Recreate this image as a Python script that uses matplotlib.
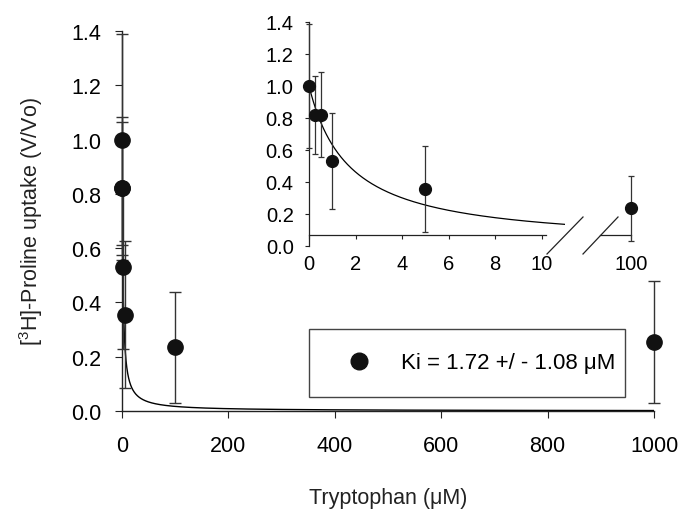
import matplotlib
matplotlib.use('Agg')
import matplotlib.pyplot as plt
from matplotlib.lines import Line2D
import numpy as np

plt.rcParams['font.family'] = ['Liberation Sans', 'DejaVu Sans']
plt.rcParams['mathtext.fontset'] = 'custom'
plt.rcParams['mathtext.rm'] = 'Liberation Sans'

# data
conc = [0, 0.25, 0.5, 1, 5, 100, 1000]          # tryptophan, uM
uptake = [1.0, 0.82, 0.82, 0.53, 0.355, 0.235, 0.255]
err = [0.39, 0.245, 0.265, 0.30, 0.27, 0.205, 0.225]
ki = 1.72
ki_err = 1.08
y_ticks = [0.0, 0.2, 0.4, 0.6, 0.8, 1.0, 1.2, 1.4]

# competitive inhibition fit, V/Vo = Ki / (Ki + [I])
x_main = np.linspace(0, 1000, 4000)
x_zoom = np.linspace(0, 11.0, 400)
fit_main = ki / (ki + x_main)
fit_zoom = ki / (ki + x_zoom)

W, H = 680, 510
fig = plt.figure(figsize=(6.8, 5.1), dpi=100)

# main panel
ax = fig.add_axes([122 / W, 98 / H, 532 / W, 380 / H])
ax.plot(x_main, fit_main, color='k', lw=1.0)
ax.errorbar(conc, uptake, yerr=err, fmt='o', color='#111111', ms=11,
            ecolor='#333333', elinewidth=1.0, capsize=4, capthick=1.0,
            clip_on=False, zorder=3)
ax.set_xlim(0, 1000)
ax.set_ylim(0, 1.4)
ax.set_xticks([0, 200, 400, 600, 800, 1000])
ax.set_yticks(y_ticks)
ax.set_yticklabels(['%.1f' % v for v in y_ticks])
for s in ['top', 'right']:
    ax.spines[s].set_visible(False)
for s in ['left', 'bottom']:
    ax.spines[s].set_linewidth(1.0)
    ax.spines[s].set_color('#222222')
ax.tick_params(axis='x', direction='out', length=5, labelsize=15.5, pad=12, color='#222222')
ax.tick_params(axis='y', direction='out', length=5, labelsize=15.5, pad=10, color='#222222')
ax.set_xlabel('Tryptophan (\u03bcM)', fontsize=15.5, color='#222222')
ax.set_ylabel('[$^{3}$H]-Proline uptake (V/Vo)', fontsize=15.5, color='#222222')
ax.xaxis.set_label_coords(0.5, -0.2)
ax.yaxis.set_label_coords(-0.145, 0.5)

handle = Line2D([], [], marker='o', ls='none', color='#111111', ms=12)
leg = ax.legend([handle], ['Ki = %.2f +/ - %.2f \u03bcM' % (ki, ki_err)],
                loc='center', bbox_to_anchor=(309 / W, (H - 396) / H, 316 / W, 64 / H),
                bbox_transform=fig.transFigure, mode='expand', borderaxespad=0,
                borderpad=1.05, handlelength=2.4, handletextpad=0.7,
                fontsize=16, fancybox=False, framealpha=1)
leg.get_frame().set_edgecolor('#444444')
leg.get_frame().set_linewidth(1.0)

# inset, left part (0-10 uM)
ax1 = fig.add_axes([309 / W, (H - 247) / H, 256 / W, 224 / H])
ax1.plot(x_zoom, fit_zoom, color='k', lw=0.9)
ax1.errorbar(conc[:5], uptake[:5], yerr=err[:5], fmt='o', color='#111111', ms=8.5,
             ecolor='#333333', elinewidth=0.9, capsize=2.5, capthick=0.9,
             clip_on=False, zorder=3)
ax1.set_xlim(0, 11.0)
ax1.set_ylim(0, 1.4)
ax1.set_xticks([0, 2, 4, 6, 8, 10])
ax1.set_yticks(y_ticks)
ax1.set_yticklabels(['%.1f' % v for v in y_ticks])
ax1.spines['top'].set_visible(False)
ax1.spines['right'].set_visible(False)
ax1.spines['bottom'].set_position(('data', 0.07))
ax1.spines['bottom'].set_bounds(0, 10.2)
ax1.spines['left'].set_bounds(0, 1.4)
for s in ['left', 'bottom']:
    ax1.spines[s].set_linewidth(0.9)
    ax1.spines[s].set_color('#222222')
ax1.tick_params(axis='x', direction='out', length=3, labelsize=14.5, pad=11, color='#222222')
ax1.tick_params(axis='y', direction='out', length=3, labelsize=14.5, pad=8, color='#222222')
ax1.patch.set_alpha(0)

# inset, right part (100 uM)
ax2 = fig.add_axes([600 / W, (H - 247) / H, 36 / W, 224 / H])
ax2.errorbar(conc[5:6], uptake[5:6], yerr=err[5:6], fmt='o', color='#111111', ms=8.5,
             ecolor='#333333', elinewidth=0.9, capsize=2.5, capthick=0.9,
             clip_on=False, zorder=3)
ax2.set_xlim(90.5, 101.5)
ax2.set_ylim(0, 1.4)
ax2.set_xticks([100])
ax2.set_yticks([])
for s in ['top', 'right', 'left']:
    ax2.spines[s].set_visible(False)
ax2.spines['bottom'].set_position(('data', 0.07))
ax2.spines['bottom'].set_bounds(90.5, 100)
ax2.spines['bottom'].set_linewidth(0.9)
ax2.spines['bottom'].set_color('#222222')
ax2.tick_params(axis='x', direction='out', length=3, labelsize=14.5, pad=11, color='#222222')
ax2.patch.set_alpha(0)

# axis break marks
for x0, x1 in [(547, 583), (583, 618)]:
    fig.add_artist(Line2D([x0 / W, x1 / W], [(H - 255) / H, (H - 218) / H],
                          transform=fig.transFigure, color='#222222', lw=0.9))

fig.savefig('out.png', dpi=100)
